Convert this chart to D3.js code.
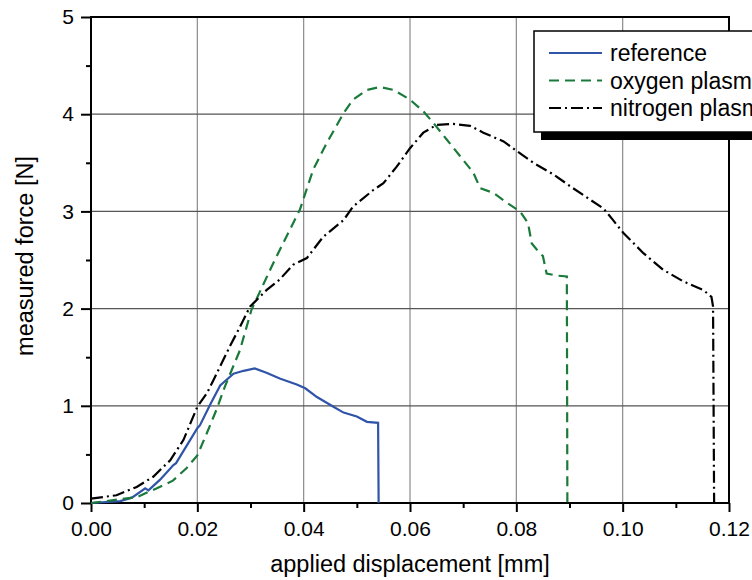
<!DOCTYPE html>
<html>
<head>
<meta charset="utf-8">
<script src="https://cdn.jsdelivr.net/npm/d3@7"></script>
<style>
  body { margin: 0; background: #fff; }
  svg { display: block; font-family: "Liberation Sans", Arial, sans-serif; }
</style>
</head>
<body>
<svg id="chart" width="752" height="580"></svg>
<script>
(function () {
  'use strict';

  // displacement [mm] / force [N] pairs
  var referenceData = [
    [0, 0], [0.0055, 0.02], [0.0077, 0.055], [0.0102, 0.15], [0.0108, 0.13],
    [0.013, 0.24], [0.0155, 0.39], [0.016, 0.41], [0.02, 0.77], [0.0205, 0.80],
    [0.0224, 1.01], [0.0243, 1.21], [0.0268, 1.33], [0.0287, 1.36], [0.0308, 1.385],
    [0.033, 1.34], [0.0355, 1.28], [0.0387, 1.22], [0.0403, 1.18], [0.0425, 1.09],
    [0.0456, 0.99], [0.0475, 0.93], [0.05, 0.89], [0.0519, 0.835], [0.054, 0.825],
    [0.0541, 0]
  ];
  var oxygenData = [
    [0, 0], [0.0086, 0.06], [0.0123, 0.15], [0.0154, 0.23], [0.018, 0.36],
    [0.02, 0.49], [0.0218, 0.72], [0.0236, 0.96], [0.0252, 1.2], [0.028, 1.57],
    [0.0302, 1.99], [0.0343, 2.47], [0.0393, 3.02], [0.0418, 3.43], [0.0443, 3.70],
    [0.0475, 4.01], [0.0493, 4.15], [0.0519, 4.25], [0.0544, 4.28], [0.0569, 4.25],
    [0.06, 4.15], [0.0625, 4.03], [0.0644, 3.91], [0.0669, 3.74], [0.0694, 3.57],
    [0.0719, 3.40], [0.0732, 3.24], [0.0757, 3.19], [0.0782, 3.09], [0.0807, 3.0],
    [0.0822, 2.88], [0.0829, 2.67], [0.0838, 2.61], [0.085, 2.54], [0.0857, 2.36],
    [0.0876, 2.34], [0.0895, 2.33], [0.0896, 0]
  ];
  var nitrogenData = [
    [0, 0.045], [0.0048, 0.08], [0.0086, 0.165], [0.0117, 0.27], [0.0149, 0.44],
    [0.0174, 0.65], [0.02, 0.99], [0.0218, 1.13], [0.023, 1.26], [0.0261, 1.61],
    [0.028, 1.81], [0.0299, 2.02], [0.033, 2.19], [0.0355, 2.30], [0.038, 2.45],
    [0.0406, 2.52], [0.0437, 2.74], [0.0475, 2.91], [0.0493, 3.05], [0.0531, 3.22],
    [0.055, 3.29], [0.0575, 3.46], [0.06, 3.65], [0.0625, 3.81], [0.065, 3.89],
    [0.0681, 3.90], [0.0713, 3.88], [0.0738, 3.81], [0.0776, 3.72], [0.0801, 3.62],
    [0.0832, 3.50], [0.087, 3.38], [0.0901, 3.26], [0.0939, 3.12], [0.0964, 3.03],
    [0.0982, 2.91], [0.1001, 2.78], [0.1039, 2.57], [0.1076, 2.40], [0.1114, 2.28],
    [0.1152, 2.19], [0.1167, 2.12], [0.117, 2.02], [0.1172, 0]
  ];

  var xTicks = [0, 0.02, 0.04, 0.06, 0.08, 0.10, 0.12];
  var yTicks = [0, 1, 2, 3, 4, 5];
  var seriesNames = ['reference', 'oxygen plasma', 'nitrogen plasma'];

  var series = [
    {name: seriesNames[0], values: referenceData, color: '#2f54a8', dash: null},
    {name: seriesNames[1], values: oxygenData, color: '#1a7a3a', dash: '10,6'},
    {name: seriesNames[2], values: nitrogenData, color: '#000', dash: '12,4,2,4'}
  ];

  var margin = {left: 91, top: 17, right: 23, bottom: 77},
    width = 752 - margin.left - margin.right,
    height = 580 - margin.top - margin.bottom;

  var svg = d3.select('#chart');
  var g = svg.append('g').attr('transform', 'translate(' + margin.left + ',' + margin.top + ')');

  var x = d3.scaleLinear().domain([0, 0.12]).range([0, width]);
  var y = d3.scaleLinear().domain([0, 5]).range([height, 0]);

  // grid
  g.append('g').selectAll('line').data(xTicks.slice(1, -1)).enter().append('line')
    .attr('x1', x).attr('x2', x).attr('y1', 0).attr('y2', height)
    .attr('stroke', '#8a8a8a').attr('stroke-width', 1.2);
  g.append('g').selectAll('line').data(yTicks.slice(1, -1)).enter().append('line')
    .attr('y1', y).attr('y2', y).attr('x1', 0).attr('x2', width)
    .attr('stroke', '#555').attr('stroke-width', 1.2);

  // axes
  var xAxis = g.append('g').attr('transform', 'translate(0,' + height + ')')
    .call(d3.axisBottom(x).tickValues(xTicks).tickFormat(d3.format('.2f')).tickSize(9).tickPadding(9));
  var xMinor = g.append('g').attr('transform', 'translate(0,' + height + ')')
    .call(d3.axisBottom(x).tickValues(d3.range(0.01, 0.12, 0.02)).tickFormat('').tickSize(5));
  var yAxis = g.append('g')
    .call(d3.axisLeft(y).tickValues(yTicks).tickFormat(d3.format('d')).tickSize(10).tickPadding(7));
  var yMinor = g.append('g')
    .call(d3.axisLeft(y).tickValues(d3.range(0.5, 5, 1)).tickFormat('').tickSize(5));

  [xAxis, xMinor, yAxis, yMinor].forEach(function (a) {
    a.select('.domain').remove();
    a.selectAll('line').attr('stroke', '#000').attr('stroke-width', 2);
    a.selectAll('text').attr('font-size', 21).attr('fill', '#000')
      .style('font-family', '"Liberation Sans", Arial, sans-serif');
  });

  // frame
  g.append('rect').attr('width', width).attr('height', height)
    .attr('fill', 'none').attr('stroke', '#000').attr('stroke-width', 2);

  // curves
  var line = d3.line().x(function (d) { return x(d[0]); }).y(function (d) { return y(d[1]); });
  g.selectAll('.curve').data(series).enter().append('path')
    .attr('class', 'curve')
    .attr('d', function (d) { return line(d.values); })
    .attr('fill', 'none')
    .attr('stroke', function (d) { return d.color; })
    .attr('stroke-width', 2.2)
    .attr('stroke-dasharray', function (d) { return d.dash; });

  // legend
  var lg = svg.append('g').attr('transform', 'translate(534,31)');
  lg.append('rect').attr('x', 7).attr('y', 8).attr('width', 260).attr('height', 101).attr('fill', '#000');
  lg.append('rect').attr('width', 260).attr('height', 101)
    .attr('fill', '#fff').attr('stroke', '#000').attr('stroke-width', 1.5);
  var item = lg.selectAll('.item').data(series).enter().append('g')
    .attr('transform', function (d, i) { return 'translate(0,' + (22 + i * 27.5) + ')'; });
  item.append('line').attr('x1', 15).attr('x2', 68)
    .attr('stroke', function (d) { return d.color; })
    .attr('stroke-width', 2.2)
    .attr('stroke-dasharray', function (d) { return d.dash; });
  item.append('text').attr('x', 76).attr('dy', '0.36em').attr('font-size', 23)
    .text(function (d) { return d.name; });

  // axis titles
  svg.append('text').attr('x', 410).attr('y', 572)
    .attr('text-anchor', 'middle').attr('font-size', 23.5).text('applied displacement [mm]');
  svg.append('text').attr('transform', 'translate(33,256) rotate(-90)')
    .attr('text-anchor', 'middle').attr('font-size', 23.5).text('measured force [N]');
}());
</script>
</body>
</html>
